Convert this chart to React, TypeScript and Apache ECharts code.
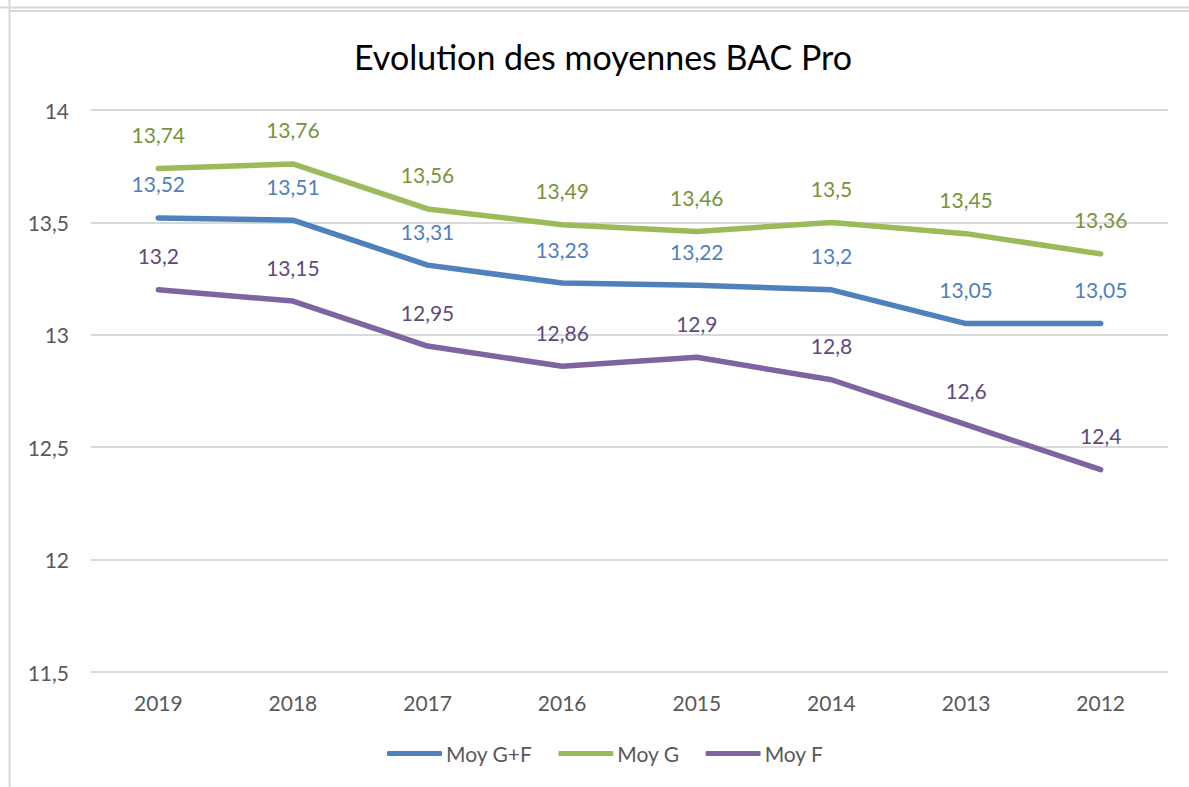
import React, { useEffect, useRef } from "react";
import * as echarts from "echarts";

const years = ["2019", "2018", "2017", "2016", "2015", "2014", "2013", "2012"];
const moyGF = [13.52, 13.51, 13.31, 13.23, 13.22, 13.2, 13.05, 13.05];
const moyG = [13.74, 13.76, 13.56, 13.49, 13.46, 13.5, 13.45, 13.36];
const moyF = [13.2, 13.15, 12.95, 12.86, 12.9, 12.8, 12.6, 12.4];

const FONT = "Lato, 'Open Sans', sans-serif";
const fmt = (v: number) => String(v).replace(".", ",");

export default function App() {
  const ref = useRef<HTMLDivElement>(null);
  useEffect(() => {
    if (!ref.current) return;
    const chart = echarts.init(ref.current, undefined, { renderer: "svg" });
    const mk = (name: string, data: number[], color: string, labelColor: string) => ({
      name,
      type: "line",
      data,
      symbol: "circle",
      symbolSize: 1,
      showSymbol: true,
      lineStyle: { color, width: 5.5, cap: "round", join: "round" },
      itemStyle: { color },
      label: {
        show: true,
        position: "top",
        distance: 23,
        color: labelColor,
        fontFamily: FONT,
        fontSize: 21,
        formatter: (p: any) => fmt(p.value),
      },
    });
    chart.setOption({
      animation: false,
      backgroundColor: "#ffffff",
      title: {
        text: "Evolution des moyennes BAC Pro",
        left: 349,
        top: 34,
        textStyle: { fontFamily: FONT, fontSize: 34, fontWeight: "normal", color: "#000000" },
      },
      grid: { left: 91, right: 21, top: 110, bottom: 115 },
      legend: {
        bottom: 18,
        left: 382,
        itemWidth: 55,
        itemHeight: 5,
        itemGap: 26,
        icon: "roundRect",
        textStyle: { fontFamily: FONT, fontSize: 21, color: "#595959", padding: [0, 0, 0, -1] },
        data: ["Moy G+F", "Moy G", "Moy F"],
      },
      xAxis: {
        type: "category",
        data: years,
        boundaryGap: true,
        axisLine: { show: false },
        axisTick: { show: false },
        axisLabel: { fontFamily: FONT, fontSize: 21, color: "#595959", margin: 20 },
      },
      yAxis: {
        type: "value",
        min: 11.5,
        max: 14,
        interval: 0.5,
        axisLine: { show: false },
        axisTick: { show: false },
        splitLine: { lineStyle: { color: "#d9d9d9", width: 2 } },
        axisLabel: {
          fontFamily: FONT,
          fontSize: 21,
          color: "#595959",
          margin: 22,
          formatter: (v: number) => fmt(v),
        },
      },
      graphic: [
        { type: "line", shape: { x1: 0, y1: 7.5, x2: 1189, y2: 7.5 }, style: { stroke: "#d9d9d9", lineWidth: 2 } },
        { type: "line", shape: { x1: 9.5, y1: 11, x2: 1189, y2: 11 }, style: { stroke: "#d9d9d9", lineWidth: 2 } },
        { type: "line", shape: { x1: 9.5, y1: 0, x2: 9.5, y2: 787 }, style: { stroke: "#d9d9d9", lineWidth: 2 } },
      ],
      series: [
        mk("Moy G+F", moyGF, "#4f81bd", "#4f81bd"),
        mk("Moy G", moyG, "#9bbb59", "#77933c"),
        mk("Moy F", moyF, "#8064a2", "#604a7b"),
      ],
    });
    return () => chart.dispose();
  }, []);
  return (
    <div
      ref={ref}
      style={{ position: "absolute", left: 0, top: 0, width: 1189, height: 787 }}
    />
  );
}
